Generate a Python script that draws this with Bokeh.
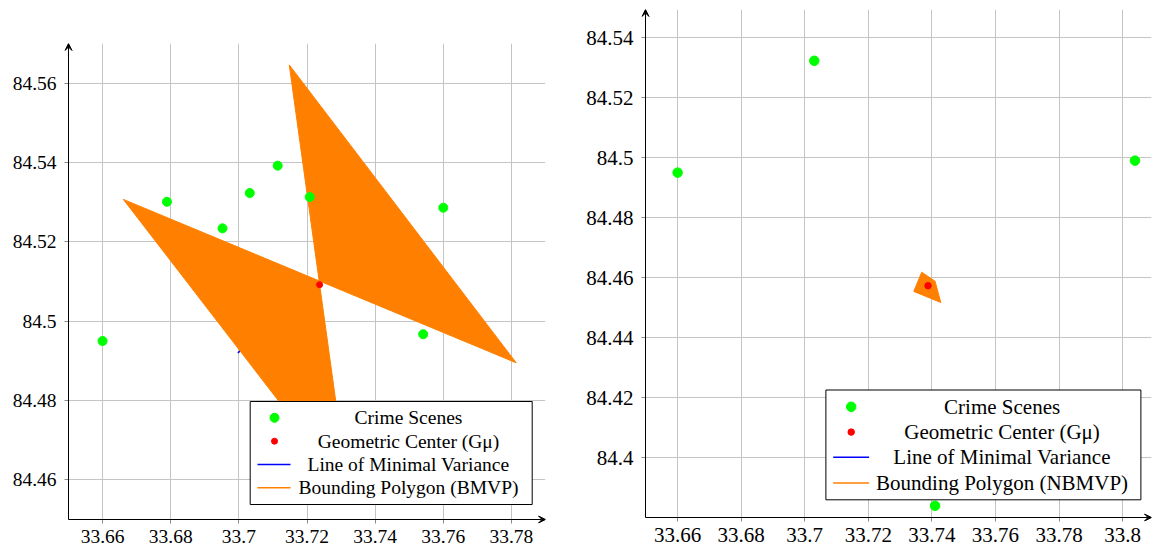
from bokeh.plotting import figure
from bokeh.layouts import row
from bokeh.models import Arrow, VeeHead, CustomJSTickFormatter, FixedTicker
from bokeh.embed import file_html
from bokeh.resources import INLINE
from bokeh.core.properties import value

# ---------------- Left panel (BMVP) ----------------
L_scene_x = [33.6600, 33.6789, 33.6952, 33.7032, 33.7114, 33.7208, 33.7600, 33.7541]
L_scene_y = [84.4950, 84.5301, 84.5234, 84.5323, 84.5392, 84.5313, 84.5286, 84.4967]
L_center_x = [33.7237]
L_center_y = [84.5092]
L_line_x = [33.6997, 33.7237]
L_line_y = [84.4920, 84.5092]
L_poly_x = [33.6661, 33.7814, 33.7148, 33.7321]
L_poly_y = [84.5307, 84.4895, 84.5646, 84.4571]
L_xticks = [33.66, 33.68, 33.70, 33.72, 33.74, 33.76, 33.78]
L_xtick_labels = ["33.66", "33.68", "33.7", "33.72", "33.74", "33.76", "33.78"]
L_yticks = [84.46, 84.48, 84.50, 84.52, 84.54, 84.56]
L_ytick_labels = ["84.46", "84.48", "84.5", "84.52", "84.54", "84.56"]
L_legend = ["Crime Scenes", "Geometric Center (G\u03bc)", "Line of Minimal Variance", "Bounding Polygon (BMVP)"]

# ---------------- Right panel (NBMVP) ----------------
R_scene_x = [33.6600, 33.7030, 33.8039, 33.7410]
R_scene_y = [84.4951, 84.5324, 84.4991, 84.3840]
R_center_x = [33.7388]
R_center_y = [84.4574]
R_poly_x = [33.7368, 33.7410, 33.7428, 33.7343]
R_poly_y = [84.4619, 84.4589, 84.4518, 84.4555]
R_xticks = [33.66, 33.68, 33.70, 33.72, 33.74, 33.76, 33.78, 33.80]
R_xtick_labels = ["33.66", "33.68", "33.7", "33.72", "33.74", "33.76", "33.78", "33.8"]
R_yticks = [84.40, 84.42, 84.44, 84.46, 84.48, 84.50, 84.52, 84.54]
R_ytick_labels = ["84.4", "84.42", "84.44", "84.46", "84.48", "84.5", "84.52", "84.54"]
R_legend = ["Crime Scenes", "Geometric Center (G\u03bc)", "Line of Minimal Variance", "Bounding Polygon (NBMVP)"]

FONT = "Liberation Serif"
GREEN = "#00ff00"
RED = "#ff0000"
BLUE = "#0000ff"
ORANGE = "#ff8000"
PAD = 4  # px between frame edge and the drawn axis line (tick length)


def fmt(tvals, tlabels):
    return CustomJSTickFormatter(args=dict(tvals=tvals, tlabels=tlabels), code="""
        for (let i = 0; i < tvals.length; i++) {
            if (Math.abs(tvals[i] - tick) < 1e-7) { return tlabels[i]; }
        }
        return String(tick);
    """)


def make_fig(ax_x, ax_y, xticks, xlabels, yticks, ylabels, fs,
             ax_left, ax_top, ax_w, ax_h, page_w, page_h, page_x0):
    sx = ax_w / (ax_x[1] - ax_x[0])
    sy = ax_h / (ax_y[1] - ax_y[0])
    xr = (ax_x[0] - PAD / sx, ax_x[1])
    yr = (ax_y[0] - PAD / sy, ax_y[1])
    fl = ax_left - PAD
    fw = ax_w + PAD
    fh = ax_h + PAD
    bl = fl - page_x0
    br = page_w - bl - fw
    bb = page_h - ax_top - fh
    p = figure(x_range=xr, y_range=yr, frame_width=fw, frame_height=fh,
               min_border_left=bl, min_border_top=ax_top, min_border_right=br,
               min_border_bottom=bb, output_backend="svg", toolbar_location=None,
               background_fill_color="white", border_fill_color="white")
    p.frame_align = False
    p.outline_line_color = None
    for ax, ticks, labels in ((p.xaxis[0], xticks, xlabels), (p.yaxis[0], yticks, ylabels)):
        ax.ticker = FixedTicker(ticks=ticks)
        ax.formatter = fmt(ticks, labels)
        ax.axis_line_color = None
        ax.major_tick_in = PAD
        ax.major_tick_out = 0
        ax.major_tick_line_color = "#8c8c8c"
        ax.minor_tick_line_color = None
        ax.major_label_text_font = FONT
        ax.major_label_text_font_size = fs
        ax.major_label_text_color = "black"
    p.xaxis.major_label_standoff = 6
    p.yaxis.major_label_standoff = 8
    p.grid.grid_line_color = "#c4c4c4"
    p.grid.grid_line_width = 1
    p.add_layout(Arrow(end=VeeHead(size=7, fill_color="black", line_color="black", line_width=1),
                       x_start=ax_x[0], y_start=ax_y[0], x_end=ax_x[0], y_end=ax_y[1],
                       line_color="black", line_width=1))
    p.add_layout(Arrow(end=VeeHead(size=7, fill_color="black", line_color="black", line_width=1),
                       x_start=ax_x[0], y_start=ax_y[0], x_end=ax_x[1], y_end=ax_y[0],
                       line_color="black", line_width=1))

    def mp(px, py):
        return (ax_x[0] + (px - ax_left) / sx, ax_y[1] - (py - ax_top) / sy)
    return p, mp


def add_legend(p, mp, box, rows, mark_x, lx0, lx1, text_x, labels, fs, gsize, rsize):
    bx0, by0, bx1, by1 = box
    x0, y0 = mp(bx0, by1)
    x1, y1 = mp(bx1, by0)
    p.quad(left=[x0], right=[x1], bottom=[y0], top=[y1], fill_color="white",
           line_color="black", line_width=1, level="annotation")
    ys = [mp(0, r)[1] for r in rows]
    mx = mp(mark_x, 0)[0]
    p.scatter([mx], [ys[0]], size=gsize, fill_color=GREEN, line_color=GREEN, level="overlay")
    p.scatter([mx], [ys[1]], size=rsize, fill_color=RED, line_color=RED, level="overlay")
    a = mp(lx0, 0)[0]
    b = mp(lx1, 0)[0]
    p.segment(x0=[a, a], y0=[ys[2], ys[3]], x1=[b, b], y1=[ys[2], ys[3]],
              line_color=[BLUE, ORANGE], line_width=1.6, level="overlay")
    tx = mp(text_x, 0)[0]
    p.text(x=[tx] * 4, y=ys, text=labels, text_font=value(FONT), text_font_size=fs,
           text_align="center", text_baseline="middle", text_color="black", level="overlay")


# ---- left figure ----
L_ax_x = (33.65, 33.79)
L_ax_y = (84.45, 84.57)
p1, m1 = make_fig(L_ax_x, L_ax_y, L_xticks, L_xtick_labels, L_yticks, L_ytick_labels, "19.5px",
                  68, 43, 477, 476, 565, 552, 0)
p1.line(L_line_x, L_line_y, line_color=BLUE, line_width=1.5)
p1.patch(L_poly_x, L_poly_y, fill_color=ORANGE, line_color=ORANGE, line_width=1)
p1.scatter(L_scene_x, L_scene_y, size=9, fill_color=GREEN, line_color=GREEN)
p1.scatter(L_center_x, L_center_y, size=6, fill_color=RED, line_color=RED)
add_legend(p1, m1, (249.7, 401, 531.7, 504), [417.3, 440.7, 464.0, 487.3],
           274, 257, 290, 408, L_legend, "19.5px", 9, 6)

# ---- right figure ----
R_ax_x = (33.6499, 33.8091)
R_ax_y = (84.3801, 84.5495)
p2, m2 = make_fig(R_ax_x, R_ax_y, R_xticks, R_xtick_labels, R_yticks, R_ytick_labels, "21px",
                  645, 9, 506, 508, 587, 552, 565)
p2.patch(R_poly_x, R_poly_y, fill_color=ORANGE, line_color=ORANGE, line_width=1)
p2.scatter(R_scene_x, R_scene_y, size=9.5, fill_color=GREEN, line_color=GREEN)
p2.scatter(R_center_x, R_center_y, size=6.5, fill_color=RED, line_color=RED)
add_legend(p2, m2, (825.4, 389.5, 1140.4, 499.3), [406.3, 431.6, 456.8, 482.5],
           850.7, 832.7, 868.6, 1001.6, R_legend, "21px", 9.5, 6.5)

layout = row(p1, p2, spacing=0)
open("out.html", "w").write(file_html(layout, INLINE))
